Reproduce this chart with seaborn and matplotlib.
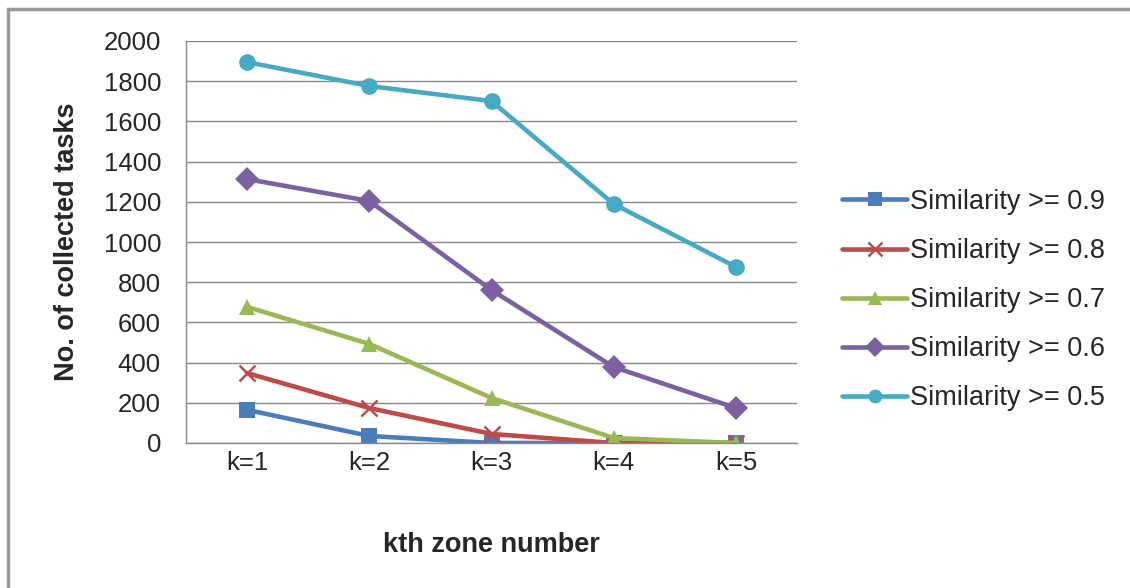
import matplotlib as mtl
mtl.use('Agg')
import matplotlib.pyplot as plt
import numpy as np
import pandas as pd
import seaborn as sns
from matplotlib.patches import Rectangle

# data
zones = ["k=1", "k=2", "k=3", "k=4", "k=5"]
sim_09 = [165, 35, 0, 0, 0]
sim_08 = [348, 174, 45, 0, 0]
sim_07 = [677, 493, 224, 25, 0]
sim_06 = [1313, 1204, 761, 378, 174]
sim_05 = [1895, 1776, 1701, 1189, 876]
series_names = ["Similarity >= 0.9", "Similarity >= 0.8", "Similarity >= 0.7",
                "Similarity >= 0.6", "Similarity >= 0.5"]

rows = []
for name, vals in zip(series_names, [sim_09, sim_08, sim_07, sim_06, sim_05]):
    for z, v in zip(zones, vals):
        rows.append({"zone": z, "tasks": v, "series": name})
df = pd.DataFrame(rows)
df["x"] = df["zone"].map({z: i for i, z in enumerate(zones)})

colors = ["#4A7EBB", "#BE4B48", "#98B954", "#7D60A0", "#46AAC5"]
markers = ["s", "X", "^", "D", "o"]

sns.set_style("white")
plt.rcParams['font.family'] = ['Liberation Sans', 'DejaVu Sans']

fig = plt.figure(figsize=(11.3, 5.88), dpi=100)
ax = fig.add_axes([186/1130, 1-443/588, (797-186)/1130, (443-41)/588])

sns.lineplot(data=df, x="x", y="tasks", hue="series", style="series",
             palette=colors, markers=markers, dashes=False, linewidth=3.3,
             markersize=12, markeredgewidth=0, ax=ax, sort=False)
# Excel style cross marker for 0.8 series
for line in ax.get_lines():
    if line.get_color().lower() == colors[1].lower():
        line.set_marker("x")
        line.set_markeredgewidth(1.8)
        line.set_markersize(12)
        line.set_markeredgecolor(colors[1])

ax.set_xlim(-0.5, 4.5)
ax.set_ylim(0, 2000)
ax.set_yticks(np.arange(0, 2001, 200))
ax.set_xticks(range(len(zones)))
ax.set_xticklabels(zones)
ax.set_xticks(np.arange(-0.5, 4.6, 1), minor=True)
ax.tick_params(axis="x", which="major", length=0, pad=6, labelsize=18.5)
ax.tick_params(axis="x", which="minor", length=8, color="#888888", width=1)
ax.tick_params(axis="y", length=8, color="#888888", width=1, labelsize=18.5, pad=10)
ax.grid(axis="y", color="#888888", linewidth=1)
ax.set_axisbelow(True)
for s in ["top", "right"]:
    ax.spines[s].set_visible(False)
for s in ["left", "bottom"]:
    ax.spines[s].set_color("#888888")
    ax.spines[s].set_linewidth(1)

ax.set_xlabel("kth zone number", fontsize=19.5, fontweight="bold", labelpad=41)
ax.set_ylabel("No. of collected tasks", fontsize=19.5, fontweight="bold", labelpad=17)

handles, labels = ax.get_legend_handles_labels()
for h in handles:
    h.set_linewidth(3.3)
    h.set_markersize(10)
leg = ax.legend(handles, labels, loc="center left", bbox_to_anchor=(818/1130, 1-300/588),
                bbox_transform=fig.transFigure, frameon=False, fontsize=19.5,
                handlelength=2.4, handletextpad=0.08, labelspacing=0.85)
for h in leg.legend_handles:
    if h.get_color().lower() == colors[1].lower():
        h.set_marker("x")
        h.set_markeredgewidth(1.8)
        h.set_markeredgecolor(colors[1])

fig.patches.append(Rectangle((8/1130, -0.1), 1.2, 1.1 - 9/588, transform=fig.transFigure,
                             fill=False, edgecolor="#999999", linewidth=2.5))

plt.savefig("out.png", dpi=100)
